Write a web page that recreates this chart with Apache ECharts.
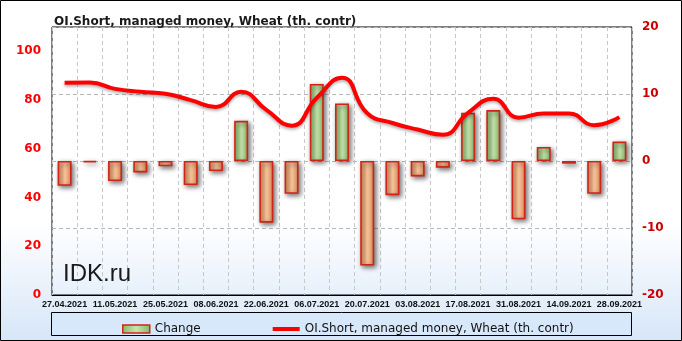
<!DOCTYPE html>
<html><head><meta charset="utf-8">
<script src="https://cdn.jsdelivr.net/npm/echarts@6/dist/echarts.min.js"></script>
<style>html,body{margin:0;padding:0;}#c{width:682px;height:341px;}</style>
</head><body><div id="c"></div>
<script>
const categories = ['27.04.2021','04.05.2021','11.05.2021','18.05.2021','25.05.2021','01.06.2021','08.06.2021','15.06.2021','22.06.2021','29.06.2021','06.07.2021','13.07.2021','20.07.2021','27.07.2021','03.08.2021','10.08.2021','17.08.2021','24.08.2021','31.08.2021','07.09.2021','14.09.2021','21.09.2021','28.09.2021'];
const changeValues = [-3.7,-0.2,-3.0,-1.7,-0.8,-3.6,-1.5,6.0,-9.2,-4.9,11.5,8.6,-15.6,-5.1,-2.3,-1.0,7.2,7.6,-8.7,2.1,-0.4,-4.9,2.9];
const shortValues = [87.1,87.2,84.6,83.4,82.6,80.0,77.2,83.4,76.0,69.5,80.9,89.2,74.6,70.6,67.9,65.8,74.8,80.5,72.8,74.5,74.5,69.7,73.0];
const titleText = 'OI.Short, managed money, Wheat (th. contr)';
const changeName = 'Change';
const shortName = 'OI.Short, managed money, Wheat (th. contr)';

const chart = echarts.init(document.getElementById('c'), null, {renderer:'canvas'});
const grad = (a,b)=>new echarts.graphic.LinearGradient(0,0,1,0,[{offset:0,color:a},{offset:0.5,color:b},{offset:1,color:a}]);
const posStyle = {color: grad('#86b766','#c6e4ae'), borderColor:'#d02418', borderWidth:1.6, shadowBlur:5, shadowColor:'rgba(0,0,0,0.55)', shadowOffsetX:2, shadowOffsetY:2};
const negStyle = {color: grad('#d98e5c','#fcc79c'), borderColor:'#d02418', borderWidth:1.6, shadowBlur:5, shadowColor:'rgba(0,0,0,0.55)', shadowOffsetX:2, shadowOffsetY:2};

chart.setOption({
  animation:false,
  backgroundColor: new echarts.graphic.LinearGradient(0,0,0,1,[{offset:0,color:'#ffffff'},{offset:0.66,color:'#ffffff'},{offset:1,color:'#d6e6f8'}]),
  title:{text:titleText,left:49,top:11,textStyle:{fontFamily:'DejaVu Sans',fontWeight:'bold',fontSize:12,color:'#1a1a1a'}},
  grid:{left:52,right:50,top:27,bottom:46,show:true,borderColor:'#000',borderWidth:1,backgroundColor:'transparent'},
  legend:{left:117,top:318,itemGap:70,itemWidth:27,itemHeight:8,textStyle:{fontFamily:'DejaVu Sans',fontSize:12,color:'#111'},
    data:[{name:changeName,icon:'rect',itemStyle:{color:grad('#86b766','#c6e4ae'),borderColor:'#d02418',borderWidth:1.5}},
          {name:shortName,itemStyle:{color:'rgba(0,0,0,0)',borderColor:'rgba(0,0,0,0)',borderWidth:0,opacity:0},lineStyle:{color:'#ff0000',width:4,opacity:1}}]},
  xAxis:{type:'category',data:categories,boundaryGap:true,
    axisLine:{lineStyle:{color:'#000'}},axisTick:{show:false},
    axisLabel:{interval:1,margin:5,fontFamily:'Liberation Sans',fontWeight:'bold',fontSize:9,color:'#111'},
    splitLine:{show:true,interval:0,lineStyle:{type:[4,3],color:'#c8c8c8'}}},
  yAxis:[
    {type:'value',min:0,max:110,interval:20,position:'left',splitLine:{show:false},axisLine:{show:false},axisTick:{show:false},
     axisLabel:{showMaxLabel:false,margin:11,fontFamily:'DejaVu Sans',fontWeight:'bold',fontSize:12,color:'#ff0000'}},
    {type:'value',min:-20,max:20,interval:10,position:'right',axisLine:{show:false},axisTick:{show:false},
     splitLine:{show:true,lineStyle:{type:[4,3],color:'#b8b8b8'}},
     axisLabel:{margin:10,fontFamily:'DejaVu Sans',fontWeight:'bold',fontSize:12,color:'#cc0000'}}
  ],
  graphic:[
    {type:'rect',z:-1,shape:{x:51.5,y:312.5,width:580,height:23},style:{fill:'#d7e8fa',stroke:'#000',lineWidth:1}},
    {type:'rect',z:100,shape:{x:0.5,y:0.5,width:681,height:340},style:{fill:'none',stroke:'#000',lineWidth:1}},
    {type:'text',left:63,top:262,z:50,style:{text:'IDK.ru',fontFamily:'Liberation Sans',fontSize:24,fill:'#1a1a1a'}}
  ],
  series:[
    {name:changeName,type:'bar',yAxisIndex:1,barWidth:14,z:2,
     data:changeValues.map(v=>({value:v,itemStyle:v>=0?posStyle:negStyle}))},
    {name:shortName,type:'line',yAxisIndex:0,smooth:true,symbol:'none',showSymbol:false,z:3,
     lineStyle:{color:'#ff0000',width:4,shadowBlur:3,shadowColor:'rgba(0,0,0,0.3)',shadowOffsetY:2},
     itemStyle:{color:'#ff0000'},data:shortValues}
  ]
});
</script></body></html>
